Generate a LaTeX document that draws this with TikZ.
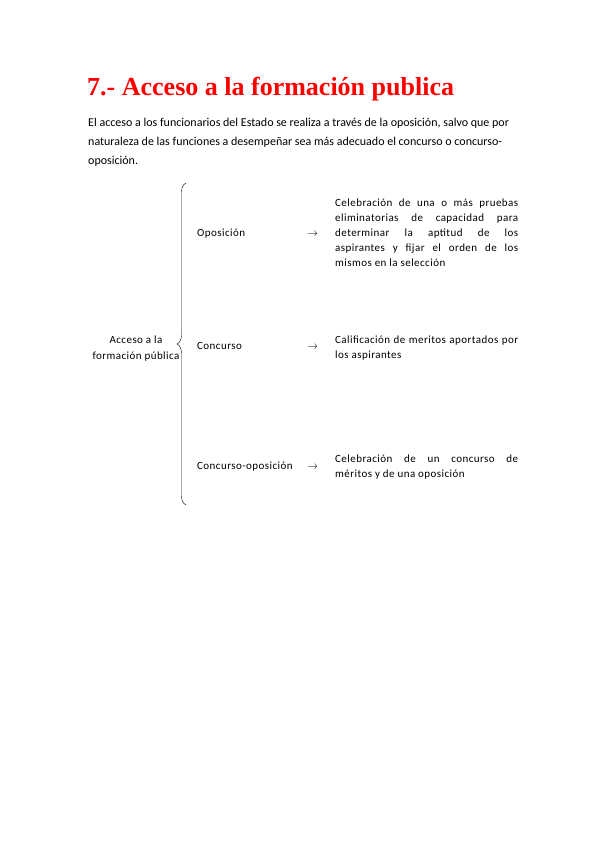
\documentclass[tikz,border=0pt]{standalone}
\usepackage{fontspec}
\setmainfont{Carlito}
\newfontfamily\titlefont{Liberation Serif}
\newfontfamily\spacedfont[LetterSpace=4]{Carlito}
\usetikzlibrary{decorations.pathreplacing}
\definecolor{titlered}{RGB}{255,0,0}
\tikzset{
  txt/.style={inner sep=0pt, font=\spacedfont\fontsize{11}{15}\selectfont},
  item/.style={txt, anchor=base west},
  arr/.style={txt, anchor=base west},
  desc/.style={txt, anchor=base west, text width=183pt, align=justify},
}
\begin{document}
\begin{tikzpicture}[x=1pt,y=-1pt]
  \useasboundingbox (0,0) rectangle (599,848);
  % heading and intro (base = last line)
  \node[anchor=base west, inner sep=0pt, text=titlered,
        font=\titlefont\bfseries\fontsize{26}{30}\selectfont] (title) at (87,96) {7.- Acceso a la formación publica};
  \node[anchor=base west, inner sep=0pt, align=left,
        font=\fontsize{12}{18.5}\selectfont] (intro) at (88,164)
    {El acceso a los funcionarios del Estado se realiza a través de la oposición, salvo que por\\
     naturaleza de las funciones a desempeñar sea más adecuado el concurso o concurso-\\
     oposición.};
  % root and brace
  \node[txt, anchor=base, align=center, font=\spacedfont\fontsize{11}{16}\selectfont] (root) at (136,359) {Acceso a la\\formación pública};
  \coordinate (bracebot) at (186,505);
  \coordinate (bracetop) at (186,183);
  \draw[decorate, decoration={brace, amplitude=9pt}, thin] (bracebot) -- (bracetop);
  % kinds of access
  \node[item] (opos) at (197,236) {Oposición};
  \node[item] (conc) at (197,349) {Concurso};
  \node[item] (concopos) at (197,469) {Concurso-oposición};
  \node[arr] (a1) at (307,236) {$\rightarrow$};
  \node[arr] (a2) at (307,349) {$\rightarrow$};
  \node[arr] (a3) at (307,469) {$\rightarrow$};
  \node[desc] (d1) at (335,206) {Celebración de una o más pruebas\linebreak
    eliminatorias de capacidad para\linebreak determinar la aptitud de los\linebreak
    aspirantes y fijar el orden de los\linebreak mismos en la selección};
  \node[desc] (d2) at (335,343) {Calificación de meritos aportados por\linebreak los aspirantes};
  \node[desc] (d3) at (335,462) {Celebración de un concurso de\linebreak méritos y de una oposición};
\end{tikzpicture}
\end{document}
